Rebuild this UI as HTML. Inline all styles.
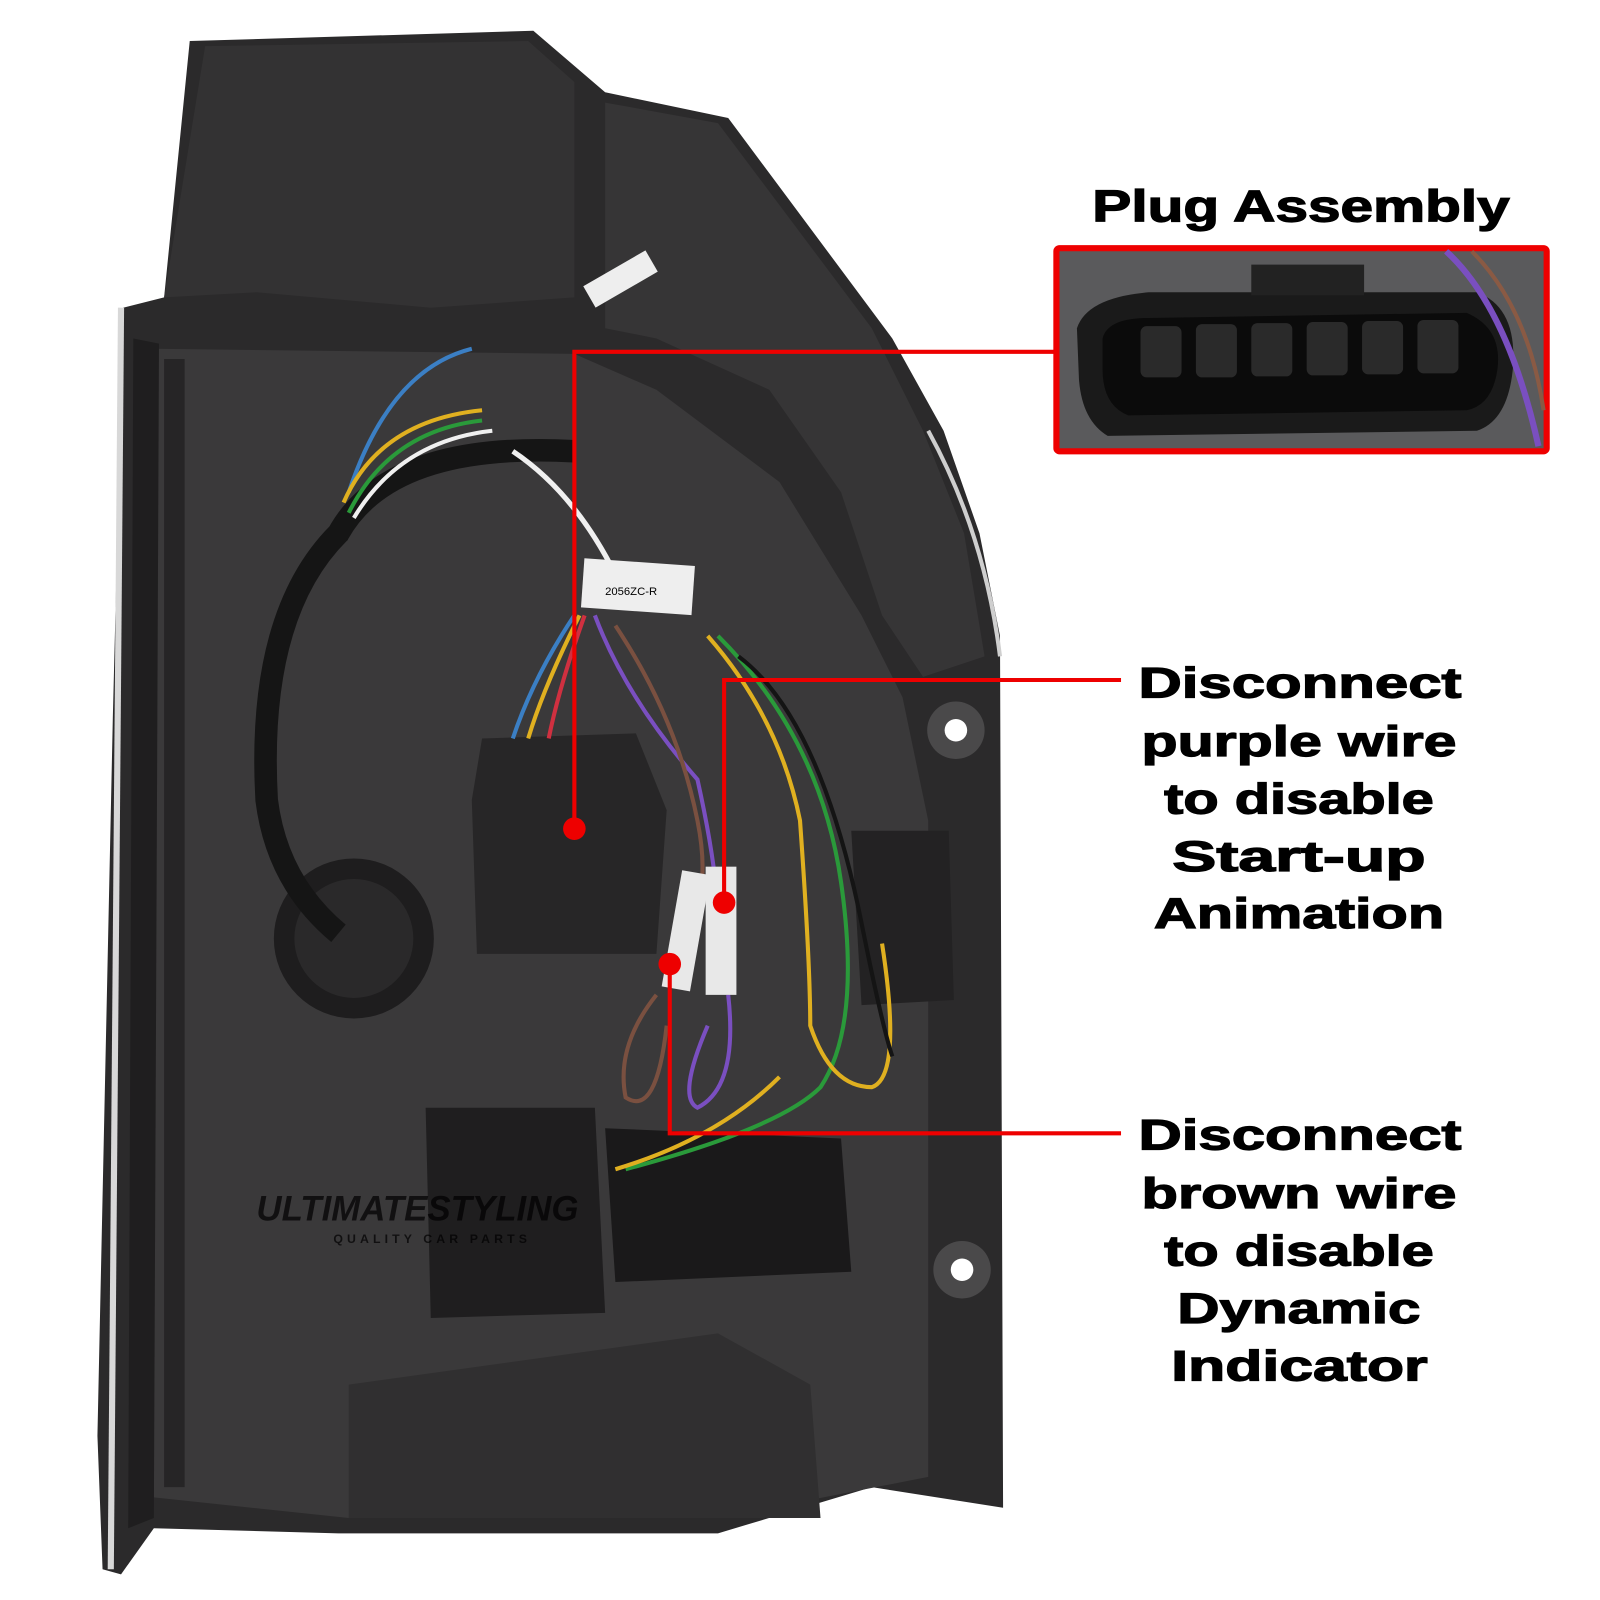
<!DOCTYPE html>
<html><head><style>
html,body{margin:0;padding:0;background:#fff;width:1600px;height:1600px;overflow:hidden}
svg{display:block}
text{font-family:"Liberation Sans",sans-serif;font-weight:bold;fill:#000}
</style></head><body>
<svg width="1600" height="1600" viewBox="0 0 1560 1560" xmlns="http://www.w3.org/2000/svg">
<rect width="1560" height="1560" fill="#fff"/>
<path d="M120,300 L160,290 L185,40 L520,30 L590,90 L710,115 L870,330 L920,420 L955,520 L975,620 L978,1470 L850,1450 L700,1495 L330,1495 L150,1490 L118,1535 L100,1530 L95,1400 L110,700 Z" fill="#2b2a2b"/>
<path d="M118,300 L108,1530" stroke="#d8d8d8" stroke-width="6" fill="none"/>
<path d="M905,420 Q960,520 975,640" stroke="#cfcfcf" stroke-width="4" fill="none"/>
<path d="M200,45 L515,40 L560,80 L560,290 L420,300 L250,285 L160,290 Z" fill="#333233"/>
<path d="M590,100 L700,120 L850,320 L900,420 L940,520 L960,640 L900,660 L860,600 L820,480 L750,380 L640,330 L590,320 Z" fill="#363536"/>
<path d="M150,340 L560,345 L640,380 L760,470 L840,600 L880,680 L905,800 L905,1440 L700,1480 L340,1480 L150,1460 Z" fill="#3a393a"/>
<path d="M160,350 L180,350 L180,1450 L160,1450 Z" fill="#262526"/>
<path d="M130,330 L155,335 L150,1480 L125,1490 Z" fill="#1f1e1f"/>
<circle cx="345" cy="915" r="78" fill="#1e1d1e"/>
<circle cx="345" cy="915" r="58" fill="#2a292a"/>
<path d="M470,720 L620,715 L650,790 L640,930 L465,930 L460,780 Z" fill="#272627"/>
<path d="M830,810 L925,810 L930,975 L840,980 Z" fill="#232223"/>
<path d="M415,1080 L580,1080 L590,1280 L420,1285 Z" fill="#1f1e1f"/>
<path d="M590,1100 L820,1110 L830,1240 L600,1250 Z" fill="#1a191a"/>
<path d="M340,1350 L700,1300 L790,1350 L800,1480 L340,1480 Z" fill="#302f30"/>
<circle cx="932" cy="712" r="28" fill="#4a494a"/><circle cx="932" cy="712" r="11" fill="#fff"/>
<circle cx="938" cy="1238" r="28" fill="#4a494a"/><circle cx="938" cy="1238" r="11" fill="#fff"/>
<path d="M560,440 Q380,430 330,520 Q250,600 260,780 Q270,860 330,910" stroke="#151515" stroke-width="22" fill="none"/>
<path d="M460,340 Q380,360 340,480" stroke="#3b7fc4" stroke-width="4" fill="none"/>
<path d="M470,400 Q370,410 335,490" stroke="#e0b020" stroke-width="4" fill="none"/>
<path d="M470,410 Q380,420 340,500" stroke="#2a9a3a" stroke-width="4" fill="none"/>
<path d="M480,420 Q390,430 345,505" stroke="#f0f0f0" stroke-width="4" fill="none"/>
<path d="M500,440 Q560,480 600,560" stroke="#f0f0f0" stroke-width="5" fill="none"/>
<path d="M560,600 Q520,660 500,720" stroke="#3b7fc4" stroke-width="4" fill="none"/>
<path d="M565,600 Q530,670 515,720" stroke="#e0b020" stroke-width="4" fill="none"/>
<path d="M570,600 Q545,670 535,720" stroke="#d03040" stroke-width="4" fill="none"/>
<path d="M580,600 Q610,680 680,760 Q700,850 700,900" stroke="#7a4fc0" stroke-width="4" fill="none"/>
<path d="M600,610 Q660,700 680,800 Q690,850 680,880" stroke="#7a5040" stroke-width="4" fill="none"/>
<path d="M700,620 Q800,720 820,860 Q840,1000 800,1060 Q760,1100 610,1140" stroke="#2a9a3a" stroke-width="4" fill="none"/>
<path d="M690,620 Q760,700 780,800 Q790,940 790,1000 Q810,1060 850,1060 Q880,1050 860,920" stroke="#e0b020" stroke-width="4" fill="none"/>
<path d="M720,640 Q800,700 840,900 Q860,1000 870,1030" stroke="#141414" stroke-width="4" fill="none"/>
<path d="M640,970 Q600,1020 610,1070 Q640,1090 650,1000" stroke="#7a5040" stroke-width="4" fill="none"/>
<path d="M710,970 Q720,1060 680,1080 Q660,1070 690,1000" stroke="#7a4fc0" stroke-width="4" fill="none"/>
<path d="M600,1140 Q700,1110 760,1050" stroke="#e0b020" stroke-width="4" fill="none"/>
<rect x="568" y="548" width="108" height="48" fill="#eeeeee" transform="rotate(4 622 572)"/>
<text x="590" y="580" font-size="11" fill="#333" style="font-weight:normal">2056ZC-R</text>
<rect x="570" y="260" width="70" height="24" fill="#eee" transform="rotate(-30 605 272)"/>
<rect x="655" y="850" width="28" height="115" fill="#e8e8e8" transform="rotate(10 669 907)"/>
<rect x="688" y="845" width="30" height="125" fill="#e8e8e8"/>
<text x="250" y="1190" font-size="34" fill="#555" style="font-style:italic" opacity="0.7">ULTIMATESTYLING</text>
<text x="325" y="1212" font-size="12" fill="#555" letter-spacing="4" opacity="0.7">QUALITY CAR PARTS</text>
<rect x="1030" y="242" width="478" height="198" fill="#5a5a5c" stroke="#ee0000" stroke-width="6" rx="3"/>
<path d="M1050,320 Q1060,290 1120,285 L1440,285 Q1480,300 1475,360 Q1470,410 1440,420 L1080,425 Q1055,410 1052,370 Z" fill="#1a1a1a"/>
<rect x="1220" y="258" width="110" height="30" fill="#222"/>
<path d="M1075,330 Q1080,310 1120,310 L1430,305 Q1465,320 1460,360 Q1455,395 1430,400 L1100,405 Q1075,395 1075,360 Z" fill="#0b0b0b"/>
<g fill="#2a2a2a">
<rect x="1112" y="318" width="40" height="50" rx="6"/><rect x="1166" y="316" width="40" height="52" rx="6"/>
<rect x="1220" y="315" width="40" height="52" rx="6"/><rect x="1274" y="314" width="40" height="52" rx="6"/>
<rect x="1328" y="313" width="40" height="52" rx="6"/><rect x="1382" y="312" width="40" height="52" rx="6"/>
</g>
<path d="M1410,245 Q1470,300 1500,435" stroke="#7a4fc0" stroke-width="6" fill="none"/>
<path d="M1435,245 Q1490,300 1505,400" stroke="#8a5a44" stroke-width="4" fill="none"/>
<g stroke="#ee0000" stroke-width="4" fill="none">
<path d="M1030,343 L560,343 L560,808"/>
<path d="M1093,663 L706,663 L706,880"/>
<path d="M1093,1105 L653,1105 L653,940"/>
</g>
<g fill="#ee0000"><circle cx="560" cy="808" r="11"/><circle cx="706" cy="880" r="11"/><circle cx="653" cy="940" r="11"/></g>
<g stroke="#000" stroke-width="1.2" lengthAdjust="spacingAndGlyphs">
<text x="1065" y="216" font-size="43" textLength="407" lengthAdjust="spacingAndGlyphs">Plug Assembly</text>
<g font-size="42">
<text x="1110" y="680" textLength="315" lengthAdjust="spacingAndGlyphs">Disconnect</text>
<text x="1113" y="737" textLength="307" lengthAdjust="spacingAndGlyphs">purple wire</text>
<text x="1135" y="793" textLength="263" lengthAdjust="spacingAndGlyphs">to disable</text>
<text x="1143" y="849" textLength="247" lengthAdjust="spacingAndGlyphs">Start-up</text>
<text x="1125" y="905" textLength="283" lengthAdjust="spacingAndGlyphs">Animation</text>
<text x="1110" y="1121" textLength="315" lengthAdjust="spacingAndGlyphs">Disconnect</text>
<text x="1113" y="1178" textLength="307" lengthAdjust="spacingAndGlyphs">brown wire</text>
<text x="1135" y="1234" textLength="263" lengthAdjust="spacingAndGlyphs">to disable</text>
<text x="1148" y="1290" textLength="237" lengthAdjust="spacingAndGlyphs">Dynamic</text>
<text x="1142" y="1346" textLength="250" lengthAdjust="spacingAndGlyphs">Indicator</text>
</g>
</g>
</svg>
</body></html>
